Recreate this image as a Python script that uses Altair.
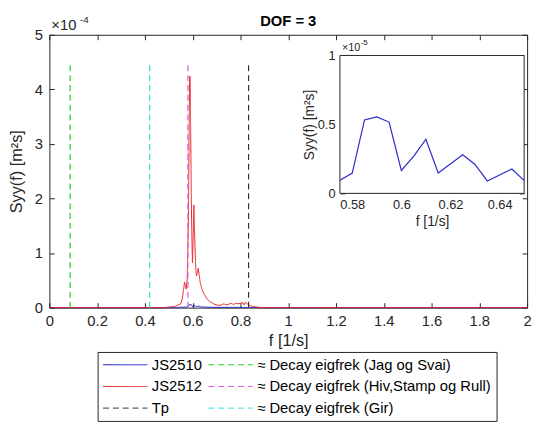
import altair as alt
import pandas as pd

# ---------------- data ----------------
# JS2512 spectrum, Syy in units of 1e-4 m^2 s
red_f = [0.0, 0.48, 0.50, 0.52, 0.535, 0.55, 0.556, 0.561, 0.566, 0.572, 0.577,
         0.582, 0.587, 0.589, 0.592, 0.596, 0.599, 0.602, 0.605, 0.609, 0.613,
         0.616, 0.62, 0.623, 0.627, 0.632, 0.639, 0.645, 0.652, 0.66, 0.67,
         0.68, 0.687, 0.70, 0.71, 0.72, 0.73, 0.74, 0.75, 0.76, 0.77, 0.78,
         0.79, 0.80, 0.811, 0.815, 0.82, 0.828, 0.835, 0.845, 0.855, 0.87,
         0.89, 2.0]
red_s = [0.0, 0.0, 0.01, 0.02, 0.04, 0.07, 0.15, 0.31, 0.47, 0.34, 0.5,
         1.6, 4.22, 4.24, 3.0, 1.4, 0.82, 1.3, 1.88, 1.2, 0.7,
         0.58, 0.65, 0.72, 0.6, 0.45, 0.34, 0.27, 0.22, 0.16, 0.12,
         0.09, 0.07, 0.05, 0.04, 0.05, 0.07, 0.05, 0.06, 0.08, 0.06, 0.08,
         0.07, 0.08, 0.09, 0.05, 0.1, 0.07, 0.05, 0.03, 0.02, 0.01,
         0.0, 0.0]

# JS2510 spectrum, Syy in units of 1e-5 m^2 s
blue_f = [0.0, 0.50, 0.52, 0.54, 0.56, 0.57, 0.575, 0.58, 0.585, 0.59, 0.595,
          0.60, 0.605, 0.61, 0.615, 0.625, 0.63, 0.635, 0.645, 0.65, 0.66,
          0.68, 0.70, 0.73, 0.76, 0.80, 0.84, 0.88, 0.90, 2.0]
blue_s = [0.0, 0.0, 0.03, 0.05, 0.08, 0.1, 0.095, 0.147, 0.533, 0.555, 0.517,
          0.166, 0.268, 0.393, 0.148, 0.28, 0.21, 0.09, 0.177, 0.092, 0.08,
          0.06, 0.05, 0.04, 0.05, 0.04, 0.03, 0.01, 0.0, 0.0]

# vertical reference lines (frequency in 1/s, top in 1e-4)
rule_names = ["Tp", "≈ Decay eigfrek (Jag og Svai)",
              "≈ Decay eigfrek (Hiv,Stamp og Rull)", "≈ Decay eigfrek (Gir)"]
rule_f = [0.834, 0.087, 0.58, 0.42]
rule_top = 4.5

# legend order (filled column by column)
series_names = ["JS2510", "JS2512", "Tp",
                "≈ Decay eigfrek (Jag og Svai)",
                "≈ Decay eigfrek (Hiv,Stamp og Rull)",
                "≈ Decay eigfrek (Gir)"]

title_text = "DOF = 3"
main_x_domain = [0, 2]
main_y_domain = [0, 5]
main_x_ticks = [0, 0.2, 0.4, 0.6, 0.8, 1, 1.2, 1.4, 1.6, 1.8, 2]
main_y_ticks = [0, 1, 2, 3, 4, 5]
inset_x_domain = [0.575, 0.65]
inset_y_domain = [0, 1]
inset_x_ticks = [0.58, 0.6, 0.62, 0.64]
inset_y_ticks = [0, 0.5, 1]

# ---------------- styles ----------------
series_colors = ["#1c1cc8", "#e82020", "#333333", "#22cc22", "#dd55dd", "#33dddd"]
series_dash = [[1, 0], [1, 0], [6, 4], [6, 4], [6, 4], [6, 4]]
FONT = "Liberation Sans"
AX = "#262626"
W, H = 485, 277

# ---------------- tables ----------------
df_red = pd.DataFrame({"f": red_f, "S": red_s, "series": "JS2512"})
df_blue = pd.DataFrame({"f": blue_f, "S": [v / 10 for v in blue_s], "series": "JS2510"})
df_rules = pd.DataFrame({"f": rule_f, "y0": 0.0, "y1": rule_top, "series": rule_names})
df_inset = pd.DataFrame({"f": blue_f, "S": blue_s})
df_inset = df_inset[(df_inset.f >= inset_x_domain[0]) & (df_inset.f <= inset_x_domain[1])]
df_box = pd.DataFrame({"x0": [inset_x_domain[0]], "x1": [inset_x_domain[1]],
                       "y0": [inset_y_domain[0]], "y1": [inset_y_domain[1]]})

xs = alt.Scale(domain=main_x_domain, nice=False, zero=False)
ys = alt.Scale(domain=main_y_domain, nice=False, zero=False)
ixs = alt.Scale(domain=inset_x_domain, range=[295, 482], nice=False, zero=False)
iys = alt.Scale(domain=inset_y_domain, range=[161, 21], nice=False, zero=False)

leg = alt.Legend(title=None, orient="none", legendX=49, legendY=322, columns=2,
                 symbolType="stroke", symbolSize=2025, symbolStrokeWidth=1,
                 labelFontSize=15, labelFont=FONT, labelColor="#000000",
                 labelOffset=4, columnPadding=6, rowPadding=6, clipHeight=16,
                 padding=5, strokeColor=AX, fillColor="white", labelLimit=400)
color = alt.Color("series:N", scale=alt.Scale(domain=series_names, range=series_colors), legend=leg)
dash = alt.StrokeDash("series:N", scale=alt.Scale(domain=series_names, range=series_dash), legend=leg)

blue = alt.Chart(df_blue).mark_line(strokeWidth=1).encode(
    x=alt.X("f:Q", scale=xs, axis=None),
    y=alt.Y("S:Q", scale=ys, axis=None),
    color=color, strokeDash=dash)

red = alt.Chart(df_red).mark_line(strokeWidth=1).encode(
    x=alt.X("f:Q", scale=xs, axis=alt.Axis(
        orient="bottom", offset=-5, values=main_x_ticks, format="~g",
        labelPadding=6, labelFlush=False, labelOverlap=False,
        title="f [1/s]", titlePadding=4, titleFontSize=16.5)),
    y=alt.Y("S:Q", scale=ys, axis=alt.Axis(
        orient="left", offset=-5, values=main_y_ticks, format="~g",
        labelPadding=7, labelFlush=False, labelOverlap=False,
        title="Syy(f)  [m²s]", titlePadding=10, titleFontSize=16.5)),
    color=color, strokeDash=dash)

rules = alt.Chart(df_rules).mark_rule(strokeWidth=1.2).encode(
    x=alt.X("f:Q", scale=xs, axis=alt.Axis(
        orient="top", offset=-5, values=main_x_ticks, labels=False, title=None)),
    y=alt.Y("y0:Q", scale=ys, axis=alt.Axis(
        orient="right", offset=-5, values=main_y_ticks, labels=False, title=None)),
    y2="y1:Q",
    color=color, strokeDash=dash)

title_mark = alt.Chart(pd.DataFrame({"t": [title_text]})).mark_text(
    align="center", baseline="alphabetic", fontSize=15, fontWeight="bold",
    font=FONT, color="#000000").encode(
    text="t:N", x=alt.value(W / 2), y=alt.value(-9))
exp_main = alt.Chart(pd.DataFrame({"t": ["×10"]})).mark_text(
    align="left", baseline="alphabetic", fontSize=15, font=FONT, color=AX).encode(
    text="t:N", x=alt.value(2), y=alt.value(-5))
exp_main2 = alt.Chart(pd.DataFrame({"t": ["-4"]})).mark_text(
    align="left", baseline="alphabetic", fontSize=10, font=FONT, color=AX).encode(
    text="t:N", x=alt.value(31), y=alt.value(-12))

main_group = alt.layer(blue, red, rules, title_mark, exp_main, exp_main2).resolve_axis(
    x="independent", y="independent")

box = alt.Chart(df_box).mark_rect(fill="white", stroke=AX, strokeWidth=1).encode(
    x=alt.X("x0:Q", scale=ixs, axis=alt.Axis(
        orient="top", offset=-26, values=inset_x_ticks, labels=False, title=None)),
    x2="x1:Q",
    y=alt.Y("y0:Q", scale=iys, axis=alt.Axis(
        orient="right", offset=-8, values=inset_y_ticks, labels=False, title=None)),
    y2="y1:Q")

inset_line = alt.Chart(df_inset).mark_line(strokeWidth=1.2, color="#2b2bd0").encode(
    x=alt.X("f:Q", scale=ixs, axis=alt.Axis(
        orient="bottom", offset=-121, values=inset_x_ticks, format="~g",
        labelFontSize=13, labelPadding=5, labelFlush=False, labelOverlap=False,
        title="f [1/s]", titleFontSize=14, titlePadding=4)),
    y=alt.Y("S:Q", scale=iys, axis=alt.Axis(
        orient="left", offset=-300, values=inset_y_ticks, format="~g",
        labelFontSize=13, labelPadding=5, labelFlush=False, labelOverlap=False,
        title="Syy(f)  [m²s]", titleFontSize=14, titlePadding=1)))

exp_in = alt.Chart(pd.DataFrame({"t": ["×10"]})).mark_text(
    align="left", baseline="alphabetic", fontSize=11, font=FONT, color=AX).encode(
    text="t:N", x=alt.value(297), y=alt.value(16))
exp_in2 = alt.Chart(pd.DataFrame({"t": ["-5"]})).mark_text(
    align="left", baseline="alphabetic", fontSize=8, font=FONT, color=AX).encode(
    text="t:N", x=alt.value(316), y=alt.value(10))

inset_group = alt.layer(box, inset_line, exp_in, exp_in2).resolve_axis(
    x="independent", y="independent")

chart = alt.layer(main_group, inset_group).resolve_scale(
    x="independent", y="independent").resolve_axis(
    x="independent", y="independent").properties(
    width=W, height=H,
    autosize=alt.AutoSizeParams(type="none"),
    padding={"left": 42, "top": 24, "right": 7, "bottom": 119},
).configure_view(stroke=AX, strokeWidth=1).configure_axis(
    domain=False, grid=False, tickColor=AX, tickSize=5, tickWidth=1,
    labelColor=AX, titleColor=AX, labelFont=FONT, titleFont=FONT,
    labelFontSize=15, titleFontSize=15, titleFontWeight="normal")

chart.save("out.html", embed_options={"renderer": "svg", "actions": False})
